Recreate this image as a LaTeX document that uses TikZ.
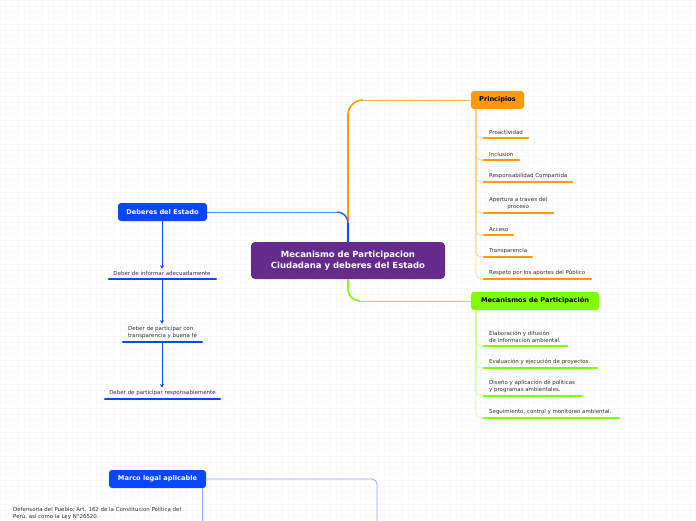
\documentclass[tikz,border=0pt]{standalone}
\usepackage{fontspec}
\setmainfont{DejaVu Sans}
\usetikzlibrary{arrows.meta,calc}
\definecolor{cpurple}{HTML}{652B8C}
\definecolor{corange}{HTML}{FF9A00}
\definecolor{corangel}{HTML}{FFCB80}
\definecolor{cgreen}{HTML}{7FFF00}
\definecolor{cgreenl}{HTML}{C0FF88}
\definecolor{cblue}{HTML}{0A45FF}
\definecolor{cbluel}{HTML}{8FAAFF}
\definecolor{ctext}{HTML}{303030}
\definecolor{cgrid}{HTML}{F9F9F9}
\newcommand{\mytaper}[5]{%
  \foreach \i in {0,...,9}{%
    \pgfmathsetmacro\ww{#4+(#5-#4)*(\i+0.5)/10}%
    \pgfmathsetmacro\ta{\i/10}%
    \pgfmathsetmacro\tb{min(1,(\i+1)/10+0.02)}%
    \draw[#1, line width=\ww pt] ($(#2)!\ta!(#3)$) -- ($(#2)!\tb!(#3)$);
  }%
}
\begin{document}
\begin{tikzpicture}[x=1pt,y=-1pt,
  mainbox/.style={fill=cpurple, rounded corners=4pt, text=white, minimum width=194pt, minimum height=37pt, align=center, inner sep=0pt, font=\fontsize{8.5}{10.4}\selectfont\bfseries},
  topicbox/.style={fill=#1, rounded corners=3pt, minimum height=18pt, inner sep=0pt, font=\fontsize{6.6}{7.8}\selectfont\bfseries},
  childtext/.style={inner sep=0pt, text=ctext, font=\fontsize{5.45}{6.9}\selectfont},
  dtext/.style={inner sep=0pt, text=ctext, font=\fontsize{5.5}{6.9}\selectfont},
  uline/.style={draw=#1, line width=2.6pt, line cap=round},
  branch/.style={draw=#1, line width=0.65pt, rounded corners=5pt},
  darrow/.style={draw=cblue, line width=0.7pt, -{Stealth[length=3.5pt,width=4pt]}}
]
\useasboundingbox (0,0) rectangle (696,520);
\fill[white] (0,0) rectangle (696,520);
\foreach \gx in {0,6,...,696} \draw[cgrid, line width=0.3pt] (\gx,0) -- (\gx,520);
\foreach \gy in {0,6,...,520} \draw[cgrid, line width=0.3pt] (0,\gy) -- (696,\gy);

% main node and topics
\node[mainbox] (c) at (348,260.5) {Mecanismo de Participacion\\Ciudadana y deberes del Estado};
\node[topicbox=corange, minimum width=53pt, text=black] (p) at (497.5,100) {Principios};
\node[topicbox=cgreen, minimum width=128pt, text=black] (m) at (535,301) {Mecanismos de Participación};
\node[topicbox=cblue, minimum width=89pt, text=white] (d) at (162.5,212) {Deberes del Estado};
\node[topicbox=cblue, minimum width=97pt, text=white] (mk) at (157.5,479) {Marco legal aplicable};

% main connectors (tapered)
\coordinate (oK) at (c.north |- p.west);
\coordinate (oA) at ([yshift=-15pt]oK);
\coordinate (oB) at ([xshift=15pt]oK);
\mytaper{corange}{c.north}{oA}{3.0}{2.0}
\draw[corange, line width=1.6pt, rounded corners=15pt] (oA) -- (oK) -- (oB);
\draw[corange!75, line width=1.0pt] (oB) -- (p.west);

\coordinate (bK) at (c.north |- d.east);
\coordinate (bA) at ([yshift=-11pt]bK);
\coordinate (bB) at ([xshift=-11pt]bK);
\draw[cblue!65, line width=1.0pt] (d.east) -- (bB);
\draw[cblue!85, line width=1.5pt, rounded corners=11pt] (bB) -- (bK) -- (bA);
\mytaper{cblue}{bA}{c.north}{1.9}{2.6}

\coordinate (gK) at (c.south |- m.west);
\coordinate (gA) at ([yshift=12pt]gK);
\coordinate (gB) at ([xshift=12pt]gK);
\mytaper{cgreen}{c.south}{gA}{3.0}{2.2}
\draw[cgreen, line width=1.7pt, rounded corners=12pt] (gA) -- (gK) -- (gB);
\draw[cgreen!80, line width=1.0pt] (gB) -- (m.west);

% Principios children
\foreach \name/\txt/\yu/\xe in {
  p1/Proactividad/138/528,
  p2/Inclusion/160/519,
  p3/Responsabilidad Compartida/182/572,
  p5/Acceso/235/513,
  p6/Transparencia/257/532,
  p7/Respeto por los aportes del Público/279/591}{
  \coordinate (\name l) at (484,\yu);
  \coordinate (\name r) at (\xe,\yu);
  \node[childtext, anchor=south west] (\name) at (489,\yu-3.2) {\txt};
  \draw[branch=corangel] (p.south -| 476,0) |- (\name l);
  \draw[uline=corange] (\name l) -- (\name r);
}
\coordinate (p4l) at (484,213);
\coordinate (p4r) at (553,213);
\node[childtext, anchor=south west, align=center] (p4) at (489,209.8) {Apertura a traves del\\proceso};
\draw[branch=corangel] (p.south -| 476,0) |- (p4l);
\draw[uline=corange] (p4l) -- (p4r);

% Mecanismos children
\foreach \name/\txt/\yu/\xe in {
  m1/{Elaboración y difusión\\de informacion ambiental.}/346/567,
  m2/{Evaluación y ejecución de proyectos.}/368/597,
  m3/{Diseño y aplicación de políticas\\y programas ambientales.}/396/582,
  m4/{Seguimiento, control y monitoreo ambiental.}/418/619}{
  \coordinate (\name l) at (484,\yu);
  \coordinate (\name r) at (\xe,\yu);
  \node[childtext, anchor=south west, align=left] (\name) at (489,\yu-3.2) {\txt};
  \draw[branch=cgreenl] (m.south -| 476,0) |- (\name l);
  \draw[uline=cgreen] (\name l) -- (\name r);
}

% Deberes children
\node[dtext, anchor=south] (t1) at (162,275.8) {Deber de informar adecuadamente};
\coordinate (u1l) at (109,279); \coordinate (u1r) at (216,279); \coordinate (u1) at (162,279);
\draw[uline=cblue] (u1l) -- (u1r);
\node[dtext, anchor=south, align=left] (t2) at (162.5,338.8) {Deber de participar con\\transparencia y buena fé};
\coordinate (u2l) at (123,342); \coordinate (u2r) at (202,342); \coordinate (u2) at (162,342);
\draw[uline=cblue] (u2l) -- (u2r);
\node[dtext, anchor=south] (t3) at (162.5,395.8) {Deber de participar responsablemente};
\coordinate (u3l) at (105,399); \coordinate (u3r) at (220,399);
\draw[uline=cblue] (u3l) -- (u3r);

\draw[darrow] (d.south -| u1) -- ([yshift=2.5pt]t1.north -| u1);
\draw[darrow] (u1) -- ([yshift=2.5pt]t2.north -| u1);
\draw[darrow] (u2) -- ([yshift=2.5pt]t3.north -| u2);

% Marco legal
\coordinate (mkend) at (377,522);
\coordinate (mkv) at (202,522);
\draw[cbluel, line width=0.8pt, rounded corners=5pt] (mk.east) -- (mkend |- mk.east) -- (mkend);
\draw[cbluel, line width=0.8pt] (mk.south -| mkv) -- (mkv);
\node[childtext, anchor=west, align=left] (dp) at (13,513) {Defensoría del Pueblo; Art. 162 de la Constitucion Política del\\Perú, así como la Ley N°26520.};
\end{tikzpicture}
\end{document}
